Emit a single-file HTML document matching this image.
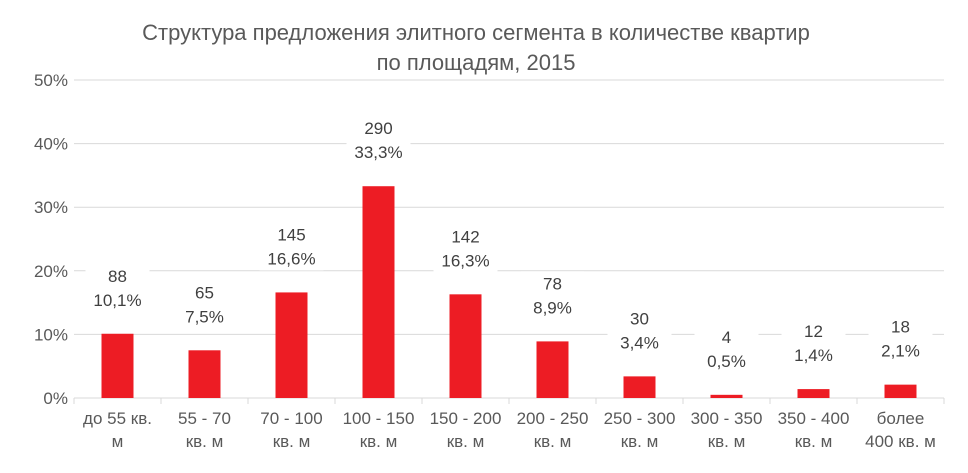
<!DOCTYPE html>
<html><head><meta charset="utf-8">
<style>
body{margin:0;background:#fff;width:968px;height:468px;overflow:hidden;font-family:"Liberation Sans",sans-serif}
</style></head>
<body>
<svg id="chart" width="968" height="468" xmlns="http://www.w3.org/2000/svg" font-family="Liberation Sans, sans-serif">
<text x="476" y="40" text-anchor="middle" font-size="22" fill="#595959">Структура предложения элитного сегмента в количестве квартир</text>
<text x="476" y="70" text-anchor="middle" font-size="22" fill="#595959">по площадям, 2015</text>
<g id="grid"></g><g id="bars"></g><g id="labels"></g>
</svg>
<script>
const categories1=["до 55 кв.","55 - 70","70 - 100","100 - 150","150 - 200","200 - 250","250 - 300","300 - 350","350 - 400","более"];
const categories2=["м","кв. м","кв. м","кв. м","кв. м","кв. м","кв. м","кв. м","кв. м","400 кв. м"];
const counts=[88,65,145,290,142,78,30,4,12,18];
const percents=[10.1,7.5,16.6,33.3,16.3,8.9,3.4,0.5,1.4,2.1];
const yTicks=[0,10,20,30,40,50];
const NS="http://www.w3.org/2000/svg";
const x0=74,cw=87,y0=398,pxPer=6.36;
const yS=v=>y0-v*pxPer;
const xC=i=>x0+cw*(i+0.5);
function mk(t,a,p){const e=document.createElementNS(NS,t);for(const k in a)e.setAttribute(k,a[k]);p.appendChild(e);return e;}
const g=document.getElementById('grid'),b=document.getElementById('bars'),l=document.getElementById('labels');
yTicks.forEach(v=>{
 if(v>0){const gl=mk('line',{x1:x0,x2:x0+cw*categories1.length,y1:yS(v),y2:yS(v),stroke:'#d9d9d9','stroke-width':1},g);
 
 }
 const t=mk('text',{x:68,y:yS(v)+6,'text-anchor':'end','font-size':17,fill:'#595959'},g);
 t.textContent=v+'%';
 
 
});
const ax=mk('line',{x1:x0,x2:x0+cw*categories1.length,y1:y0,y2:y0,stroke:'#d9d9d9','stroke-width':1},g);


for(let i=0;i<=categories1.length;i++){const tk=mk('line',{x1:x0+cw*i,x2:x0+cw*i,y1:y0,y2:y0+6,stroke:'#d9d9d9'},g);
 
 }
percents.forEach((p,i)=>{
 const r=mk('rect',{x:xC(i)-16,y:yS(p),width:32,height:y0-yS(p),fill:'#ed1c24'},b);
 
 
 const top=yS(p);
 const bg=mk('rect',{x:xC(i)-32,y:top-70,width:64,height:48,fill:'#fff'},l);
 
 
 const c=mk('text',{x:xC(i),y:top-52,'text-anchor':'middle','font-size':17,fill:'#404040'},l);
 c.textContent=counts[i];
 
 
 const pc=mk('text',{x:xC(i),y:top-28,'text-anchor':'middle','font-size':17,fill:'#404040'},l);
 pc.textContent=p.toFixed(1).replace('.',',')+'%';
 
 
 const a=mk('text',{x:xC(i),y:424,'text-anchor':'middle','font-size':17,fill:'#595959'},l);
 a.textContent=categories1[i];
 
 
 const a2=mk('text',{x:xC(i),y:447,'text-anchor':'middle','font-size':17,fill:'#595959'},l);
 a2.textContent=categories2[i];
 
 
});
</script>
</body></html>
